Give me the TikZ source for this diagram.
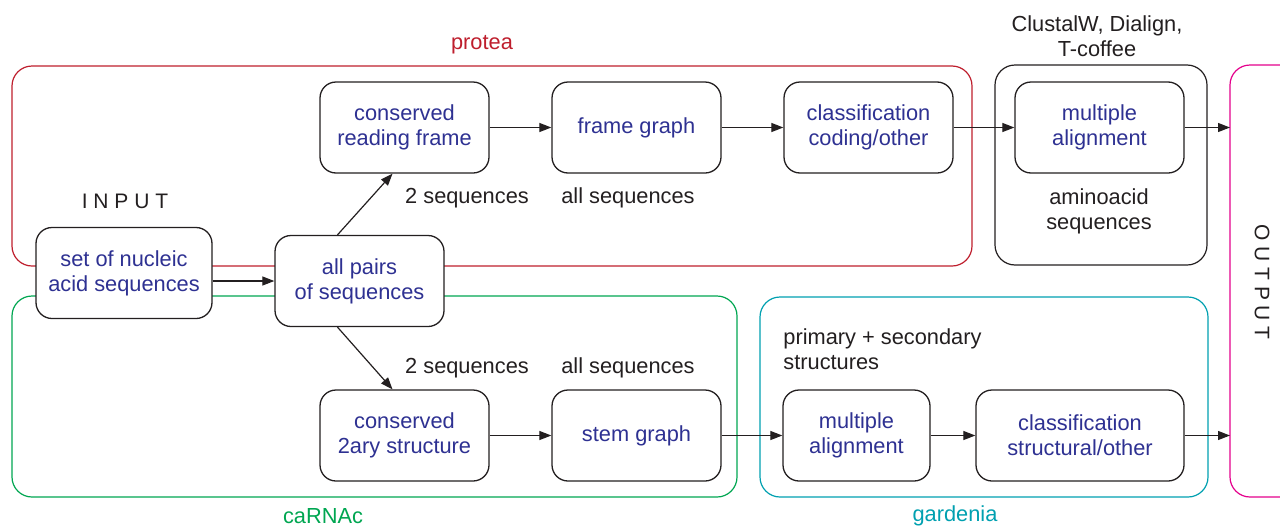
\documentclass[tikz,border=0pt]{standalone}
\usepackage{fontspec}
\setmainfont{Liberation Sans}
\usetikzlibrary{arrows.meta}
\definecolor{nodeblue}{RGB}{46,49,146}
\definecolor{protred}{RGB}{190,30,45}
\definecolor{carnagreen}{RGB}{0,166,81}
\definecolor{gardcyan}{RGB}{0,160,176}
\definecolor{outmag}{RGB}{228,0,140}
\definecolor{txtgray}{RGB}{35,31,32}
\tikzset{
  px/.style={x=0.5pt,y=-0.5pt},
  frame/.style={line width=0.6pt,rounded corners=10pt},
  stepbox/.style={draw=txtgray,line width=0.65pt,rounded corners=8pt,fill=white,
    minimum width=84.5pt,minimum height=45.5pt,text=nodeblue,align=center,
    inner sep=0pt,font=\fontsize{10.9}{12.6}\selectfont},
  lbl/.style={text=txtgray,align=center,inner sep=0pt,font=\fontsize{10.9}{12.6}\selectfont},
  grp/.style={inner sep=0pt,font=\fontsize{10.9}{12.6}\selectfont},
  arr/.style={draw=txtgray,line width=0.6pt,-{Triangle[length=6pt,width=4.5pt]}}
}
\begin{document}
\begin{tikzpicture}[px]
\useasboundingbox (0,0) rectangle (1280,525);
\begin{scope}
\clip (0,0) rectangle (1280,525);
% frames
\draw[frame,protred] (12,66) rectangle (972,266);
\draw[frame,carnagreen] (12,296) rectangle (737,497);
\draw[frame,gardcyan] (760,297) rectangle (1208,497);
\draw[frame,txtgray] (995,65) rectangle (1207,265);
\draw[frame,outmag] (1230,65) rectangle (1320,497);
\end{scope}
% group labels
\node[grp,text=protred] (lprot) at (482,45) {protea};
\node[grp,text=carnagreen] (lcarn) at (323,516) {caRNAc};
\node[grp,text=gardcyan] (lgard) at (955,516) {gardenia};
\node[lbl] (lclus) at (1097,36) {ClustalW, Dialign,\\T-coffee};
\node[lbl,font=\fontsize{10.5}{12.5}\selectfont] (linput) at (125,201) {I N P U T};
\node[lbl,font=\fontsize{10.5}{12.5}\selectfont,rotate=-90] (loutput) at (1262,282) {O U T P U T};
% nodes
\node[stepbox,minimum width=88pt] (input) at (124,273) {set of nucleic\\acid sequences};
\node[stepbox] (pairs) at (359.5,281) {all pairs\\of sequences};
\node[stepbox] (crf) at (404.5,127.5) {conserved\\reading frame};
\node[stepbox] (fg) at (636.5,127.5) {frame graph};
\node[stepbox] (cls1) at (868.5,127.5) {classification\\coding/other};
\node[stepbox] (ma1) at (1099.5,127.5) {multiple\\alignment};
\node[stepbox] (c2s) at (404.5,435.5) {conserved\\2ary structure};
\node[stepbox] (sg) at (636.5,435.5) {stem graph};
\node[stepbox,minimum width=73.5pt] (ma2) at (856.5,435.5) {multiple\\alignment};
\node[stepbox,minimum width=104pt] (cls2) at (1080,435.5) {classification\\structural/other};
% text labels
\node[lbl] (aa) at (1099,211) {aminoacid\\sequences};
\node[lbl] (s2a) at (467,198) {2 sequences};
\node[lbl] (asa) at (628,198) {all sequences};
\node[lbl] (s2b) at (467,368) {2 sequences};
\node[lbl] (asb) at (628,368) {all sequences};
\node[lbl,align=left,anchor=west] (prim) at (783,349) {primary + secondary\\structures};
% output coordinates
\coordinate (out1) at (1230,127.5);
\coordinate (out2) at (1230,435.5);
% arrows
\draw[arr] (input.east |- pairs.center) -- (pairs.west);
\draw[arr] ([xshift=-11pt]pairs.north) -- ([xshift=-6pt]crf.south);
\draw[arr] ([xshift=-11pt]pairs.south) -- ([xshift=-6pt]c2s.north);
\draw[arr] (crf) -- (fg);
\draw[arr] (fg) -- (cls1);
\draw[arr] (cls1) -- (ma1);
\draw[arr] (ma1.east) -- (out1);
\draw[arr] (c2s) -- (sg);
\draw[arr] (sg) -- (ma2);
\draw[arr] (ma2) -- (cls2);
\draw[arr] (cls2.east) -- (out2);
\end{tikzpicture}
\end{document}
